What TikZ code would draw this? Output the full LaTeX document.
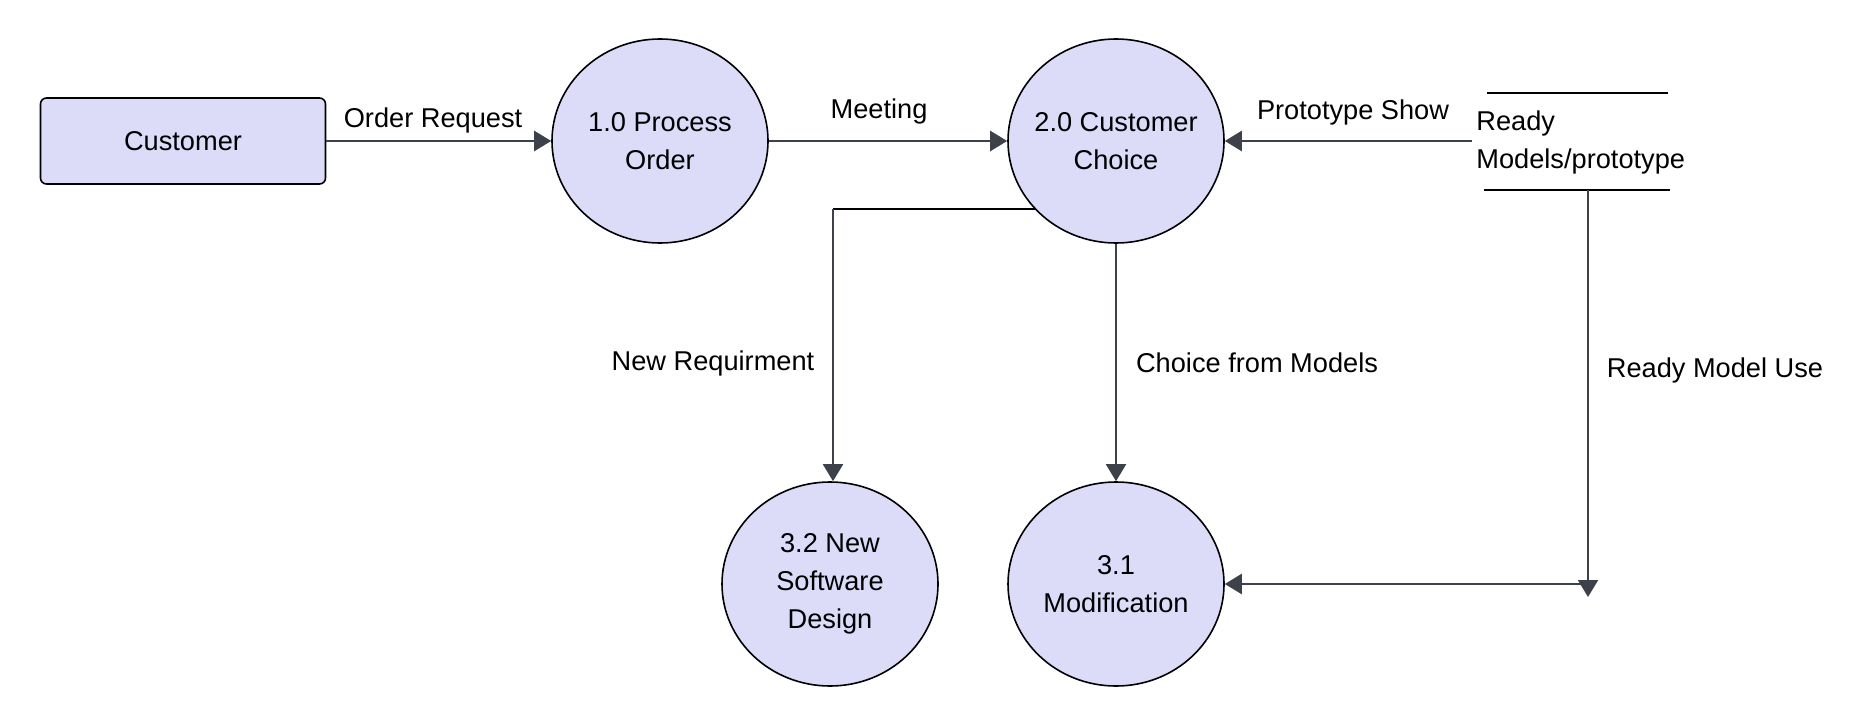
\documentclass[tikz,border=0pt]{standalone}
\usepackage{fontspec}
\setmainfont{Liberation Sans}
\usetikzlibrary{arrows.meta,shapes.geometric}
\definecolor{procfill}{HTML}{DCDCF9}
\definecolor{flowc}{HTML}{3D4149}
\begin{document}
\begin{tikzpicture}[x=0.5pt,y=-0.5pt,
  every node/.style={font=\fontsize{13.6}{19}\selectfont},
  procnode/.style={ellipse,draw=black,line width=0.8pt,fill=procfill,minimum width=108pt,minimum height=102pt,inner sep=-14pt,align=center},
  entitynode/.style={rectangle,rounded corners=3pt,draw=black,line width=0.8pt,fill=procfill,minimum width=142.5pt,minimum height=43pt,inner sep=0pt},
  flowh/.style={draw=flowc,line width=1.25pt,-{Triangle[length=8.5pt,width=10pt]}},
  flowv/.style={draw=flowc,line width=1pt,-{Triangle[length=8.5pt,width=10pt]}},
  blackline/.style={draw=black,line width=1pt},
  lbl/.style={inner sep=0pt}]
\useasboundingbox (0,0) rectangle (1871,727);
\node[entitynode] (cust) at (183,141) {Customer};
\node[procnode] (p1) at (660,141) {1.0 Process\\Order};
\node[procnode] (p2) at (1116,141) {2.0 Customer\\Choice};
\node[procnode] (p32) at (830,584) {3.2 New\\Software\\Design};
\node[procnode] (p31) at (1116,584) {3.1\\Modification};
% data store
\node[lbl,anchor=west,align=left] (store) at (1476,142) {Ready\\Models/prototype};
\coordinate (stTL) at (1487,93);
\coordinate (stTR) at (1668,93);
\coordinate (stBL) at (1484,190);
\coordinate (stBR) at (1670,190);
\draw[blackline] (stTL) -- (stTR);
\draw[blackline] (stBL) -- (stBR);
\coordinate (storeL) at (1472,141);
\coordinate (storeB) at (1588,190);
% flows
\draw[flowh] (cust.east) -- (p1.west);
\node[lbl] (lor) at (433,120) {Order Request};
\draw[flowh] (p1.east) -- (p2.west);
\node[lbl] (lme) at (879,111) {Meeting};
\draw[flowh] (storeL) -- (p2.east);
\node[lbl] (lps) at (1353,112) {Prototype Show};
\coordinate (c1) at (833,208);
\coordinate (c1b) at (p2.220 -| c1);
\draw[blackline] (p2.220) -- (c1b);
\draw[flowv] (c1b) -- (c1b |- p32.north);
\node[lbl] (lnr) at (713,363) {New Requirment};
\draw[flowv] (p2.south) -- (p31.north);
\node[lbl] (lcm) at (1257,363) {Choice from Models};
\coordinate (c2) at (1588,597);
\coordinate (c3) at (p31.east -| storeB);
\draw[flowv] (storeB) -- (c2);
\draw[flowh] (c3) -- (p31.east);
\node[lbl] (lrm) at (1715,370) {Ready Model Use};
\end{tikzpicture}
\end{document}
